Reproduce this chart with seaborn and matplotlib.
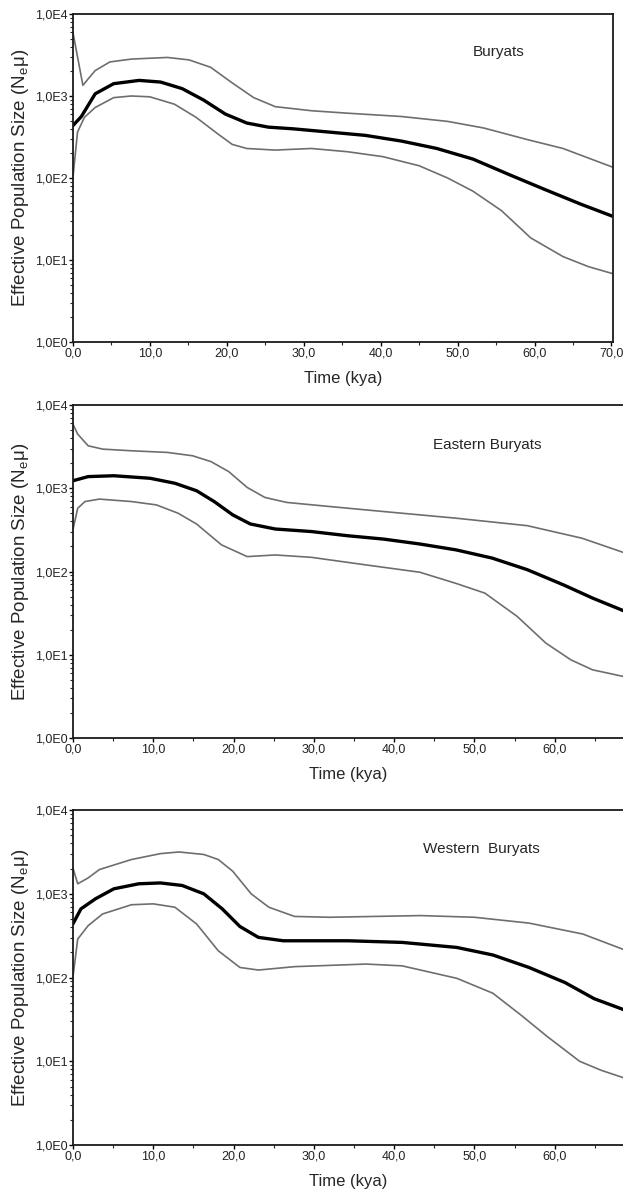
import numpy as np
import pandas as pd
import matplotlib
matplotlib.use("Agg")
import matplotlib.pyplot as plt
import seaborn as sns

# ---- data (time in kya, Ne*mu) ----
# Buryats
bur_mid_x = [0, 1.1, 2.9, 5.3, 8.6, 11.4, 14.2, 17.0, 19.8, 22.6, 25.4, 28.6, 33.3, 38.0, 42.7, 47.3, 52.0, 56.7, 61.4, 66.0, 70.2]
bur_mid_y = [435, 562, 1064, 1413, 1549, 1479, 1230, 891, 603, 468, 417, 398, 363, 331, 282, 229, 170, 110, 72, 48, 34]
bur_hi_x = [0, 1.3, 2.0, 2.9, 4.8, 7.6, 12.3, 15.1, 17.9, 20.7, 23.5, 26.3, 31.0, 35.7, 42.7, 48.7, 53.4, 59.0, 63.7, 70.2]
bur_hi_y = [6000, 1349, 1622, 2042, 2600, 2818, 2951, 2754, 2239, 1445, 955, 741, 661, 617, 562, 490, 407, 295, 229, 135]
bur_lo_x = [0, 0.6, 1.5, 2.9, 5.3, 7.6, 10.0, 13.2, 16.0, 18.8, 20.7, 22.6, 26.3, 31.0, 35.7, 40.3, 45.0, 48.7, 52.0, 55.7, 59.5, 63.7, 67.0, 70.2]
bur_lo_y = [100, 363, 550, 724, 955, 1000, 977, 794, 550, 347, 257, 229, 219, 229, 209, 182, 141, 100, 69, 40, 18.6, 11, 8.3, 6.8]

# Eastern Buryats
east_mid_x = [0, 1.9, 5.1, 9.6, 12.7, 15.4, 17.6, 19.9, 22.1, 25.2, 29.7, 34.2, 38.7, 43.2, 47.7, 52.2, 56.6, 61.1, 64.7, 68.5]
east_mid_y = [1230, 1380, 1413, 1318, 1148, 933, 692, 479, 372, 324, 302, 269, 245, 214, 182, 145, 105, 69, 48, 34]
east_hi_x = [0, 0.6, 1.9, 3.7, 7.3, 11.8, 14.9, 17.2, 19.4, 21.7, 23.9, 26.6, 32.0, 38.7, 47.7, 56.6, 63.4, 68.5]
east_hi_y = [5900, 4467, 3236, 2951, 2818, 2692, 2455, 2089, 1585, 1023, 776, 676, 603, 525, 437, 355, 251, 170]
east_lo_x = [0, 0.6, 1.5, 3.3, 7.3, 10.4, 13.1, 15.4, 18.5, 21.7, 25.2, 29.7, 36.5, 43.2, 47.7, 51.3, 55.3, 58.9, 62.0, 64.7, 68.5]
east_lo_y = [316, 575, 692, 741, 692, 631, 501, 372, 209, 151, 158, 148, 120, 98, 72, 55, 29, 13.8, 8.7, 6.6, 5.5]

# Western Buryats
west_mid_x = [0, 1.0, 2.8, 5.1, 8.2, 10.9, 13.6, 16.3, 18.6, 20.8, 23.1, 26.2, 34.3, 41.0, 47.8, 52.3, 56.8, 61.3, 64.9, 68.7]
west_mid_y = [437, 661, 871, 1148, 1318, 1349, 1259, 1000, 661, 407, 302, 275, 275, 263, 229, 186, 132, 87, 56, 41]
west_hi_x = [0, 0.6, 1.9, 3.3, 7.3, 10.9, 13.2, 16.3, 18.1, 19.9, 22.2, 24.4, 27.6, 32.0, 43.3, 50.0, 56.8, 63.5, 68.7]
west_hi_y = [2042, 1318, 1549, 1950, 2570, 3020, 3162, 2951, 2570, 1862, 1000, 692, 537, 525, 550, 525, 447, 331, 214]
west_lo_x = [0, 0.6, 1.9, 3.7, 7.3, 10.0, 12.7, 15.4, 18.1, 20.8, 23.1, 27.6, 36.5, 41.0, 47.8, 52.3, 55.9, 59.0, 63.1, 65.8, 68.7]
west_lo_y = [100, 288, 417, 575, 741, 759, 692, 437, 209, 132, 123, 135, 145, 138, 98, 65, 35, 20, 10, 7.8, 6.3]

panels = [
    ("Buryats", 70.2, (bur_mid_x, bur_mid_y), (bur_hi_x, bur_hi_y), (bur_lo_x, bur_lo_y)),
    ("Eastern Buryats", 68.5, (east_mid_x, east_mid_y), (east_hi_x, east_hi_y), (east_lo_x, east_lo_y)),
    ("Western  Buryats", 68.5, (west_mid_x, west_mid_y), (west_hi_x, west_hi_y), (west_lo_x, west_lo_y)),
]
x_ticks = [0, 10, 20, 30, 40, 50, 60, 70]
x_tick_labels = ["0,0", "10,0", "20,0", "30,0", "40,0", "50,0", "60,0", "70,0"]
y_ticks = [1, 10, 100, 1000, 10000]
y_tick_labels = ["1,0E0", "1,0E1", "1,0E2", "1,0E3", "1,0E4"]

sns.set_style("ticks")
plt.rcParams["font.family"] = ["Liberation Sans", "DejaVu Sans"]
plt.rcParams["mathtext.fontset"] = "custom"
plt.rcParams["mathtext.rm"] = "Liberation Sans"

fig = plt.figure(figsize=(6.23, 11.95), dpi=100)
# axes boxes in figure fractions
boxes = [
    [0.117, 0.7138, 0.867, 0.2745],
    [0.117, 0.3824, 0.883, 0.2787],
    [0.117, 0.0418, 0.883, 0.2803],
]
title_pos = [(0.788, 0.885), (0.753, 0.88), (0.742, 0.884)]

for i, (name, xmax, mid, hi, lo) in enumerate(panels):
    ax = fig.add_axes(boxes[i])
    for (xs, ys) in (hi, lo):
        sns.lineplot(x=xs, y=ys, ax=ax, color="#6e6e6e", linewidth=1.2,
                     estimator=None, sort=False)
    sns.lineplot(x=mid[0], y=mid[1], ax=ax, color="black", linewidth=2.4,
                 estimator=None, sort=False)
    ax.set_yscale("log")
    ax.set_ylim(1, 10000)
    ax.set_xlim(0, xmax)
    ax.set_yticks(y_ticks)
    ax.set_yticklabels(y_tick_labels)
    ax.yaxis.set_minor_locator(matplotlib.ticker.LogLocator(base=10, subs=np.arange(2, 10)))
    ax.yaxis.set_minor_formatter(matplotlib.ticker.NullFormatter())
    n = int(xmax // 10) + 1
    ax.set_xticks(x_ticks[:n])
    ax.set_xticklabels(x_tick_labels[:n])
    ax.set_xticks(np.arange(5, xmax, 10), minor=True)
    ax.tick_params(axis="both", which="major", direction="out", length=3, width=1,
                   labelsize=9, pad=1, colors="black", labelcolor="#222222")
    ax.tick_params(axis="both", which="minor", direction="out", length=2, width=0.8)
    for side in ("left", "bottom", "top", "right"):
        ax.spines[side].set_visible(True)
        ax.spines[side].set_color("#1a1a1a")
        ax.spines[side].set_linewidth(1.3)
    if i > 0:
        ax.spines["right"].set_visible(False)
    ax.set_xlabel("Time (kya)", fontsize=12, labelpad=8)
    ax.set_ylabel(r"Effective Population Size (N$_\mathregular{e}$μ)", fontsize=13.5, labelpad=3)
    ax.text(title_pos[i][0], title_pos[i][1], name, transform=ax.transAxes,
            ha="center", va="center", fontsize=11)

fig.savefig("out.png", dpi=100, facecolor="white")
